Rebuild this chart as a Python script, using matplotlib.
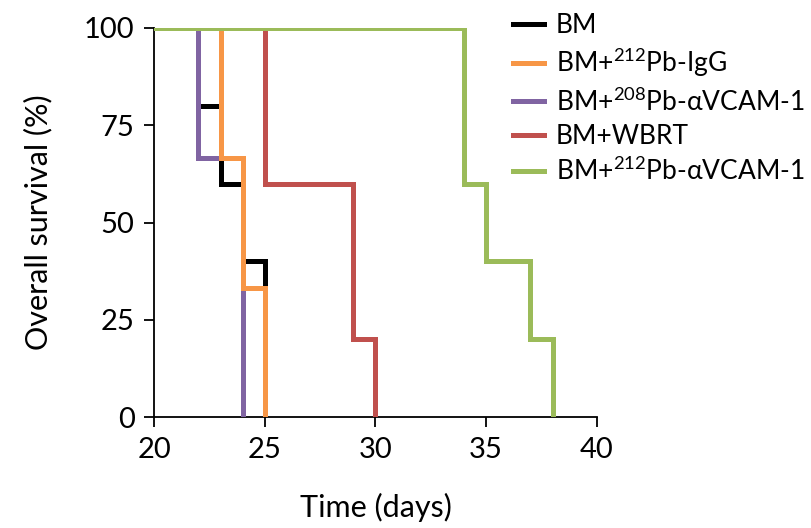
import matplotlib
matplotlib.use("Agg")
import matplotlib.pyplot as plt

plt.rcParams['font.family'] = ['Lato', 'DejaVu Sans']
plt.rcParams['mathtext.default'] = 'regular'

# Kaplan-Meier steps: event times (days) and survival (%)
bm_t = [20, 22, 23, 24, 25, 25]
bm_s = [100, 80, 60, 40, 0, 0]
igg_t = [20, 23, 24, 25, 25]
igg_s = [100, 66.7, 33.3, 0, 0]
pb208_t = [20, 22, 24, 24]
pb208_s = [100, 66.7, 0, 0]
wbrt_t = [20, 25, 29, 30, 30]
wbrt_s = [100, 60, 20, 0, 0]
vcam_t = [20, 34, 35, 37, 38, 38]
vcam_s = [100, 60, 40, 20, 0, 0]

labels = ['BM', 'BM+$^{212}$Pb-IgG', 'BM+$^{208}$Pb-αVCAM-1',
          'BM+WBRT', 'BM+$^{212}$Pb-αVCAM-1']
colors = ['#000000', '#F79646', '#8064A2', '#C0504D', '#9BBB59']
series = [(bm_t, bm_s), (igg_t, igg_s), (pb208_t, pb208_s),
          (wbrt_t, wbrt_s), (vcam_t, vcam_s)]
zorders = [2, 4, 3, 5, 6]

fig = plt.figure(figsize=(8.11, 5.28), dpi=100)
ax = fig.add_axes([0.19, 0.21, 0.546, 0.737])

for (t, s), c, lab, z in zip(series, colors, labels, zorders):
    ax.step(t, s, where='post', color=c, lw=3.6, label=lab, zorder=z,
            solid_joinstyle='miter')

ax.set_xlim(20, 40)
ax.set_ylim(0, 100)
ax.set_xticks([20, 25, 30, 35, 40])
ax.set_yticks([0, 25, 50, 75, 100])
ax.spines['top'].set_visible(False)
ax.spines['right'].set_visible(False)
for sp in ['left', 'bottom']:
    ax.spines[sp].set_linewidth(1.3)
ax.tick_params(direction='out', length=7, width=1.3, labelsize=21, pad=7)
ax.set_xlabel('Time (days)', fontsize=22, labelpad=22)
ax.set_ylabel('Overall survival (%)', fontsize=22, labelpad=23)

fig.legend(loc='upper left', bbox_to_anchor=(0.633, 0.975), frameon=False,
           fontsize=19, handlelength=1.15, handletextpad=0.45,
           labelspacing=0.32, borderaxespad=0, borderpad=0)

fig.savefig('out.png', dpi=100)
